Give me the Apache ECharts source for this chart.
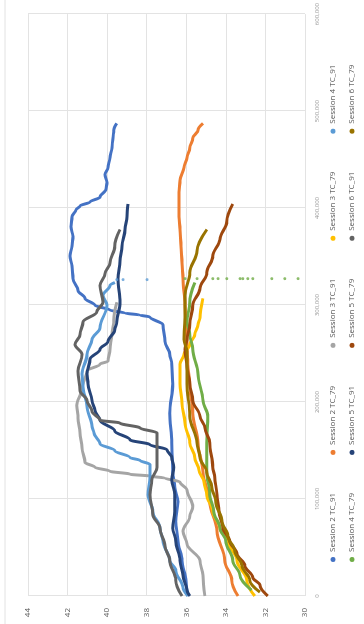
<!DOCTYPE html>
<html>
<head>
<meta charset="utf-8">
<script src="https://cdn.jsdelivr.net/npm/echarts@6/dist/echarts.min.js"></script>
<style>
  html, body { margin: 0; padding: 0; background: #fff; overflow: hidden; width: 364px; height: 624px; }
  /* the chart is laid out landscape and turned a quarter turn counter-clockwise */
  #chart { position: absolute; left: 0; top: 0; width: 624px; height: 364px;
           transform-origin: 0 0; transform: translate(0, 624px) rotate(-90deg); }
</style>
</head>
<body>
<div id="chart"></div>
<script>
// Series names, in legend order
const seriesNames = [
  'Session 2 TC_91', 'Session 2 TC_79', 'Session 3 TC_91', 'Session 3 TC_79', 'Session 4 TC_91',
  'Session 4 TC_79', 'Session 5 TC_91', 'Session 5 TC_79', 'Session 6 TC_91', 'Session 6 TC_79'
];

// Axis ticks
const tempTicks = [30, 32, 34, 36, 38, 40, 42, 44];
const timeTicks = [0, 100000, 200000, 300000, 400000, 500000, 600000];

// Temperature traces: [time, °C]
const s2tc91 = [[0,35.92],[16200,36.02],[36500,36.22],[56700,36.42],[77000,36.53],[97200,36.42],[112400,36.58],[127600,36.68],[158000,36.73],[188400,36.83],[218800,36.68],[239100,36.73],[249200,36.83],[262400,37.08],[279600,37.18],[287700,37.84],[289700,38.34],[291700,39.10],[294800,39.86],[299800,40.62],[306900,41.12],[315000,41.47],[327200,41.73],[340400,41.78],[350500,41.88],[360600,41.78],[370800,41.73],[380900,41.83],[391000,41.78],[398100,41.58],[402200,41.37],[406200,40.87],[411300,40.36],[419400,40.06],[426500,40.01],[434600,40.11],[441700,39.96],[451800,39.86],[461900,39.76],[472100,39.71],[480200,39.66],[487300,39.51]];
const s2tc79 = [[0,33.39],[16200,33.70],[36500,34.05],[66900,34.45],[97200,34.81],[127600,35.16],[158000,35.41],[188400,35.67],[218800,35.82],[239100,35.92],[259300,35.97],[279600,36.02],[299800,36.07],[327200,36.17],[343400,36.22],[360600,36.27],[377900,36.32],[391000,36.37],[401200,36.37],[416400,36.37],[428500,36.32],[441700,36.12],[451800,35.97],[461900,35.82],[472100,35.67],[480200,35.41],[487300,35.16]];
const s3tc91 = [[0,35.06],[21300,35.16],[36500,35.31],[53700,35.97],[66900,36.17],[82100,35.82],[92200,35.67],[109400,35.97],[117500,36.32],[121600,37.08],[123600,37.84],[125600,38.85],[128700,39.86],[132700,40.62],[137800,41.12],[153000,41.27],[168200,41.37],[183400,41.47],[196500,41.53],[213700,41.27],[232000,41.02],[239100,40.36],[242100,39.96],[254300,39.86],[269500,39.76],[284700,39.66],[302900,39.51]];
const s3tc79 = [[0,32.54],[16200,32.94],[36500,33.44],[56700,33.90],[69900,34.30],[87100,34.66],[104300,34.96],[117500,35.11],[129700,35.36],[142800,35.57],[158000,35.82],[178300,36.07],[198500,36.22],[218800,36.32],[239100,36.32],[249200,36.12],[259300,35.82],[269500,35.57],[279600,35.41],[286700,35.31],[306900,35.16]];
const s4tc91 = [[0,35.92],[9100,36.17],[26300,36.53],[36500,36.83],[56700,37.18],[69900,37.33],[87100,37.69],[104300,37.94],[122600,37.84],[135700,37.84],[139800,38.34],[142800,38.85],[149900,39.61],[157000,40.36],[168200,40.67],[175300,40.77],[195500,41.02],[215800,41.22],[229000,41.27],[249200,41.02],[264400,40.77],[276600,40.36],[299800,40.01],[310000,40.21],[320100,39.86],[323200,39.61]];
const s4tc91Tail = [[326200,39.51],[326200,39.20],[326200,37.99]];
const s4tc79 = [[6000,32.70],[21300,33.29],[36500,33.65],[56700,34.00],[69900,34.30],[87100,34.61],[104300,34.81],[127600,34.96],[158000,34.96],[185400,34.91],[201600,35.16],[229000,35.41],[254300,35.67],[269500,35.82],[282600,35.97],[302900,35.82],[323200,35.57]];
const s4tc79Tail = [[327200,36.07],[327200,35.46],[327200,34.66],[327200,34.40],[327200,33.95],[327200,33.29],[327200,33.14],[327200,32.89],[327200,32.64],[327200,31.68],[327200,31.02],[327200,30.36]];
const s5tc91 = [[0,35.82],[6100,35.97],[21300,36.17],[36500,36.32],[56700,36.53],[69900,36.68],[87100,36.58],[104300,36.58],[119500,36.73],[132700,36.63],[142800,36.73],[150900,36.98],[156000,37.84],[161100,38.85],[170200,39.61],[181300,40.36],[191500,40.62],[201600,40.77],[218800,40.97],[229000,41.02],[244100,40.87],[254300,40.36],[262400,39.96],[274500,39.61],[282600,39.51],[302900,39.35],[327200,39.45],[345400,39.35],[360600,39.25],[377900,39.10],[391000,39.00],[404200,38.95]];
const s5tc79 = [[0,31.88],[11100,32.28],[19200,32.64],[31400,33.04],[43500,33.44],[56700,33.80],[69900,34.15],[87100,34.35],[104300,34.45],[122600,34.56],[132700,34.66],[158000,34.81],[173200,35.06],[185400,35.31],[201600,35.67],[218800,35.82],[236000,35.97],[254300,36.07],[264400,35.97],[279600,35.82],[299800,35.67],[317100,35.31],[333300,34.96],[350500,34.66],[367700,34.30],[386000,33.95],[404200,33.65]];
const s6tc91 = [[0,36.22],[16200,36.53],[36500,36.83],[51700,37.08],[69900,37.33],[84100,37.69],[104300,37.84],[119500,37.74],[132700,37.48],[153000,37.48],[168200,37.48],[173200,38.34],[178300,39.35],[181300,40.36],[190400,40.77],[201600,41.02],[211700,41.37],[232000,41.47],[249200,41.27],[259300,41.63],[269500,41.37],[282600,41.22],[292800,40.52],[302900,40.21],[320100,40.36],[332300,40.11],[343400,39.86],[360600,39.61],[377900,39.35]];
const s6tc79 = [[4000,32.28],[16200,32.79],[31400,33.19],[46600,33.55],[61800,33.90],[77000,34.20],[97200,34.51],[112400,34.71],[127600,34.96],[142800,35.31],[158000,35.46],[185400,35.82],[218800,35.97],[252300,35.97],[264400,36.12],[289700,36.07],[310000,36.07],[333300,35.82],[355600,35.46],[377900,34.96]];

const traces = [s2tc91, s2tc79, s3tc91, s3tc79, s4tc91, s4tc79, s5tc91, s5tc79, s6tc91, s6tc79];
const colors = ['#4472C4', '#ED7D31', '#A5A5A5', '#FFC000', '#5B9BD5',
                '#70AD47', '#264478', '#9E480E', '#636363', '#997300'];

const font = '"Open Sans", "Liberation Sans", sans-serif';

const series = traces.map((d, i) => ({
  name: seriesNames[i],
  type: 'line',
  data: d,
  showSymbol: false,
  symbol: 'none',
  smooth: 0.35,
  smoothMonotone: 'x',
  color: colors[i],
  lineStyle: { width: 3, color: colors[i] },
  z: 2
}));
// isolated readings logged at the end of session 4
series.push({ name: seriesNames[4], type: 'scatter', data: s4tc91Tail, symbolSize: 3,
              itemStyle: { color: colors[4] }, z: 3 });
series.push({ name: seriesNames[5], type: 'scatter', data: s4tc79Tail, symbolSize: 3,
              itemStyle: { color: colors[5] }, z: 3 });

const legendBase = {
  orient: 'horizontal', left: 62, padding: 0, icon: 'circle',
  itemWidth: 5, itemHeight: 5, itemGap: 38,
  textStyle: { fontSize: 8, color: '#595959', fontFamily: font, width: 70 }
};

const chart = echarts.init(document.getElementById('chart'), null, { renderer: 'canvas' });
chart.setOption({
  animation: false,
  backgroundColor: '#fff',
  color: colors,
  grid: { left: 28, right: 4, top: 28, bottom: 59, containLabel: false },
  xAxis: {
    type: 'value', min: timeTicks[0], max: timeTicks[timeTicks.length - 1],
    interval: timeTicks[1] - timeTicks[0],
    axisLine: { show: false }, axisTick: { show: false },
    splitLine: { show: true, lineStyle: { color: '#e3e3e3', width: 1 } },
    axisLabel: { fontSize: 6, color: '#999999', margin: 9, fontFamily: font }
  },
  yAxis: {
    type: 'value', min: tempTicks[0], max: tempTicks[tempTicks.length - 1],
    interval: tempTicks[1] - tempTicks[0],
    axisLine: { show: false }, axisTick: { show: false },
    splitLine: { show: true, lineStyle: { color: '#e3e3e3', width: 1 } },
    axisLabel: { fontSize: 8, color: '#595959', margin: 12, fontFamily: font }
  },
  legend: [
    Object.assign({}, legendBase, { top: 329, data: seriesNames.slice(0, 5) }),
    Object.assign({}, legendBase, { top: 348, data: seriesNames.slice(5) })
  ],
  graphic: [{
    type: 'line', silent: true,
    shape: { x1: 0, y1: 5, x2: 624, y2: 5 },
    style: { stroke: '#e2e2e2', lineWidth: 1 }
  }],
  series: series
});
</script>
</body>
</html>
